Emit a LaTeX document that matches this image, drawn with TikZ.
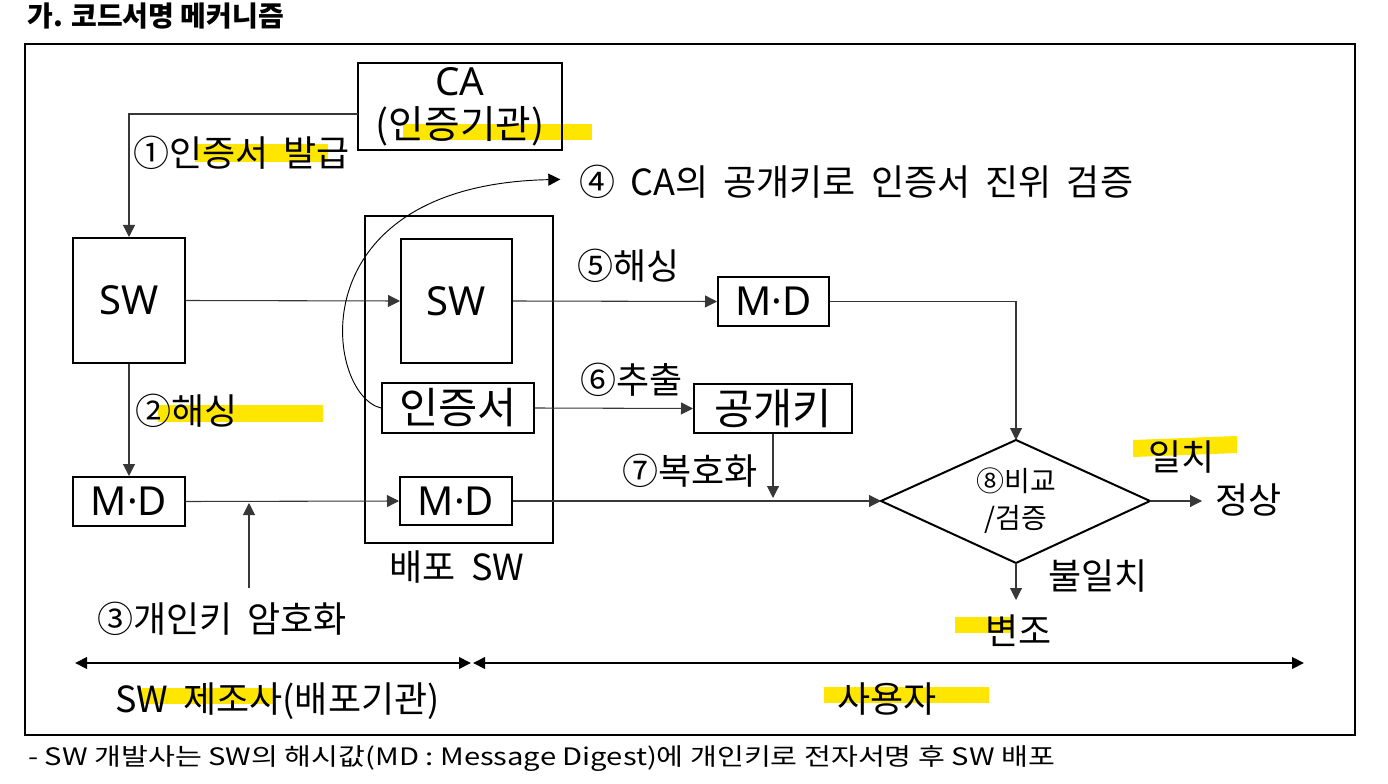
\documentclass[tikz,border=0pt]{standalone}
\usepackage{fontspec}
\setmainfont{Noto Sans CJK KR}
\newfontfamily\latfont{Noto Sans}
\usetikzlibrary{arrows.meta,calc}
\definecolor{hl}{RGB}{255,230,0}
\definecolor{ln}{RGB}{55,55,55}
\newcommand\widespace{\spaceskip=0.42em\relax}
\begin{document}
\begin{tikzpicture}[x=0.75pt,y=-0.75pt,
  pxbox/.style n args={4}{draw=black, line width=1.5pt, inner sep=0pt,
    minimum width={(#3-#1)*0.75pt}, minimum height={(#4-#2)*0.75pt},
    at={({(#1+#3)/2},{(#2+#4)/2})}},
  boxtext/.style={font=\fontsize{30pt}{34pt}\selectfont},
  boxkor/.style={font=\fontsize{32pt}{36pt}\selectfont},
  lbl/.style={font=\fontsize{27pt}{32pt}\selectfont\widespace, inner sep=0pt, anchor=west},
  conn/.style={draw=ln, line width=0.8pt, -{Triangle[length=9pt,width=9pt]}},
  hlbar/.style={fill=hl, draw=none},
  dblarrow/.style={line width=2pt, {Triangle[length=9pt,width=8.5pt]}-{Triangle[length=9pt,width=8.5pt]}},
]
\useasboundingbox (0,0) rectangle (1388,784);
\fill[white] (0,0) rectangle (1388,784);

% highlights
\fill[hlbar] (195,144) rectangle (328,162);
\fill[hlbar] (403,124) rectangle (592,140);
\fill[hlbar] (158,405) rectangle (323,422);
\fill[hlbar] (1133,440) -- (1237,436) -- (1237,453) -- (1133,457) -- cycle;
\fill[hlbar] (955,617) rectangle (1013,633);
\fill[hlbar] (142,688) rectangle (273,704);
\fill[hlbar] (824,687) rectangle (989,703);

% title and frame
\node[anchor=west, inner sep=0pt, font=\fontsize{21pt}{24pt}\selectfont\bfseries] (title) at (27,16) {가. 코드서명 메커니즘};
\draw[line width=2pt] (25,44) rectangle (1355,735);

% boxes
\node[pxbox={358}{63}{562}{150}, align=center, font=\fontsize{29pt}{35pt}\selectfont] (ca) {\raisebox{-3pt}{\latfont CA}\\(인증기관)};
\node[pxbox={73}{238}{185}{363}, boxtext] (sw1) {\latfont SW};
\node[pxbox={73}{477}{185}{526}, boxtext] (md1) {\latfont M·D};
\node[pxbox={365}{216}{553}{543}] (dist) {};
\node[pxbox={401}{239}{512}{363}, boxtext] (sw2) {\latfont SW};
\node[pxbox={382}{383}{534}{433}, boxkor] (cert) {인증서};
\node[pxbox={400}{477}{512}{525}, boxtext] (md2) {\latfont M·D};
\node[pxbox={718}{277}{829}{326}, boxtext] (md3) {\latfont M·D};
\node[pxbox={694}{384}{852}{433}, boxkor] (pub) {공개키};

% diamond
\coordinate (dL) at (881,501);
\coordinate (dT) at (1016,440);
\coordinate (dR) at (1150,501);
\coordinate (dB) at (1016,563);
\draw[line width=1.5pt, line join=miter] (dL) -- (dT) -- (dR) -- (dB) -- cycle;
\node[align=center, inner sep=0pt, font=\fontsize{21pt}{27.75pt}\selectfont] (cmp) at (1016,501) {⑧비교\\/검증};

% labels
\node[lbl] (l1) at (133,153) {①인증서 발급};
\node[lbl] (l2) at (135,411) {②해싱};
\node[lbl] (l3) at (97,619) {③개인키 암호화};
\node[lbl] (l4) at (579,182) {④ CA의 공개키로 인증서 진위 검증};
\node[lbl] (l5) at (577,266) {⑤해싱};
\node[lbl] (l6) at (580,380) {⑥추출};
\node[lbl] (l7) at (622,471) {⑦복호화};
\node[lbl] (match) at (1148,457) {일치};
\node[lbl] (ok) at (1215,500) {정상};
\node[lbl] (mismatch) at (1048,576) {불일치};
\node[lbl] (tamper) at (985,631) {변조};
\node[lbl, anchor=center] (distlbl) at (457,567) {배포 SW};
\node[lbl] (maker) at (115,701) {SW 제조사(배포기관)};
\node[lbl] (user) at (837,699) {사용자};

% connectors
\coordinate (caout) at (358,114);
\draw[conn] (caout) -| (sw1.north);
\draw[conn] (sw1.east) -- (sw2.west);
\draw[conn] (sw1.south) -- (md1.north);
\draw[conn] (md1.east) -- (md2.west);
\coordinate (enc) at (249,588);
\coordinate (encend) at (249,503);
\draw[conn] (enc) -- (encend);
\draw[conn] (sw2.east) -- (md3.west);
\draw[conn] (cert.east) -- (pub.west);
\draw[conn] (md3.east) -| (dT);
\coordinate (dec) at (773,498);
\draw[conn] (pub.south) -- (dec);
\draw[conn] (md2.east) -- (dL);
\draw[conn, shorten >=9.75pt] (dR) -- (ok.west |- dR);
\coordinate (tampend) at (1016,600);
\draw[conn] (dB) -- (tampend);
\draw[conn, draw=black, line width=0.7pt, shorten >=14pt] (cert.west) .. controls (325,395) and (295,185) .. (l4.west |- 0,179);

% bottom spans
\coordinate (b1) at (75,663);
\coordinate (b2) at (471,663);
\coordinate (b3) at (473,663);
\coordinate (b4) at (1304,663);
\draw[dblarrow] (b1) -- (b2);
\draw[dblarrow] (b3) -- (b4);

% footnote
\node[anchor=west, inner sep=0pt, font=\fontsize{18pt}{21pt}\selectfont] (note) at (28,759) {\resizebox{770pt}{\height}{- SW 개발사는 SW의 해시값(MD : Message Digest)에 개인키로 전자서명 후 SW 배포}};
\end{tikzpicture}
\end{document}
